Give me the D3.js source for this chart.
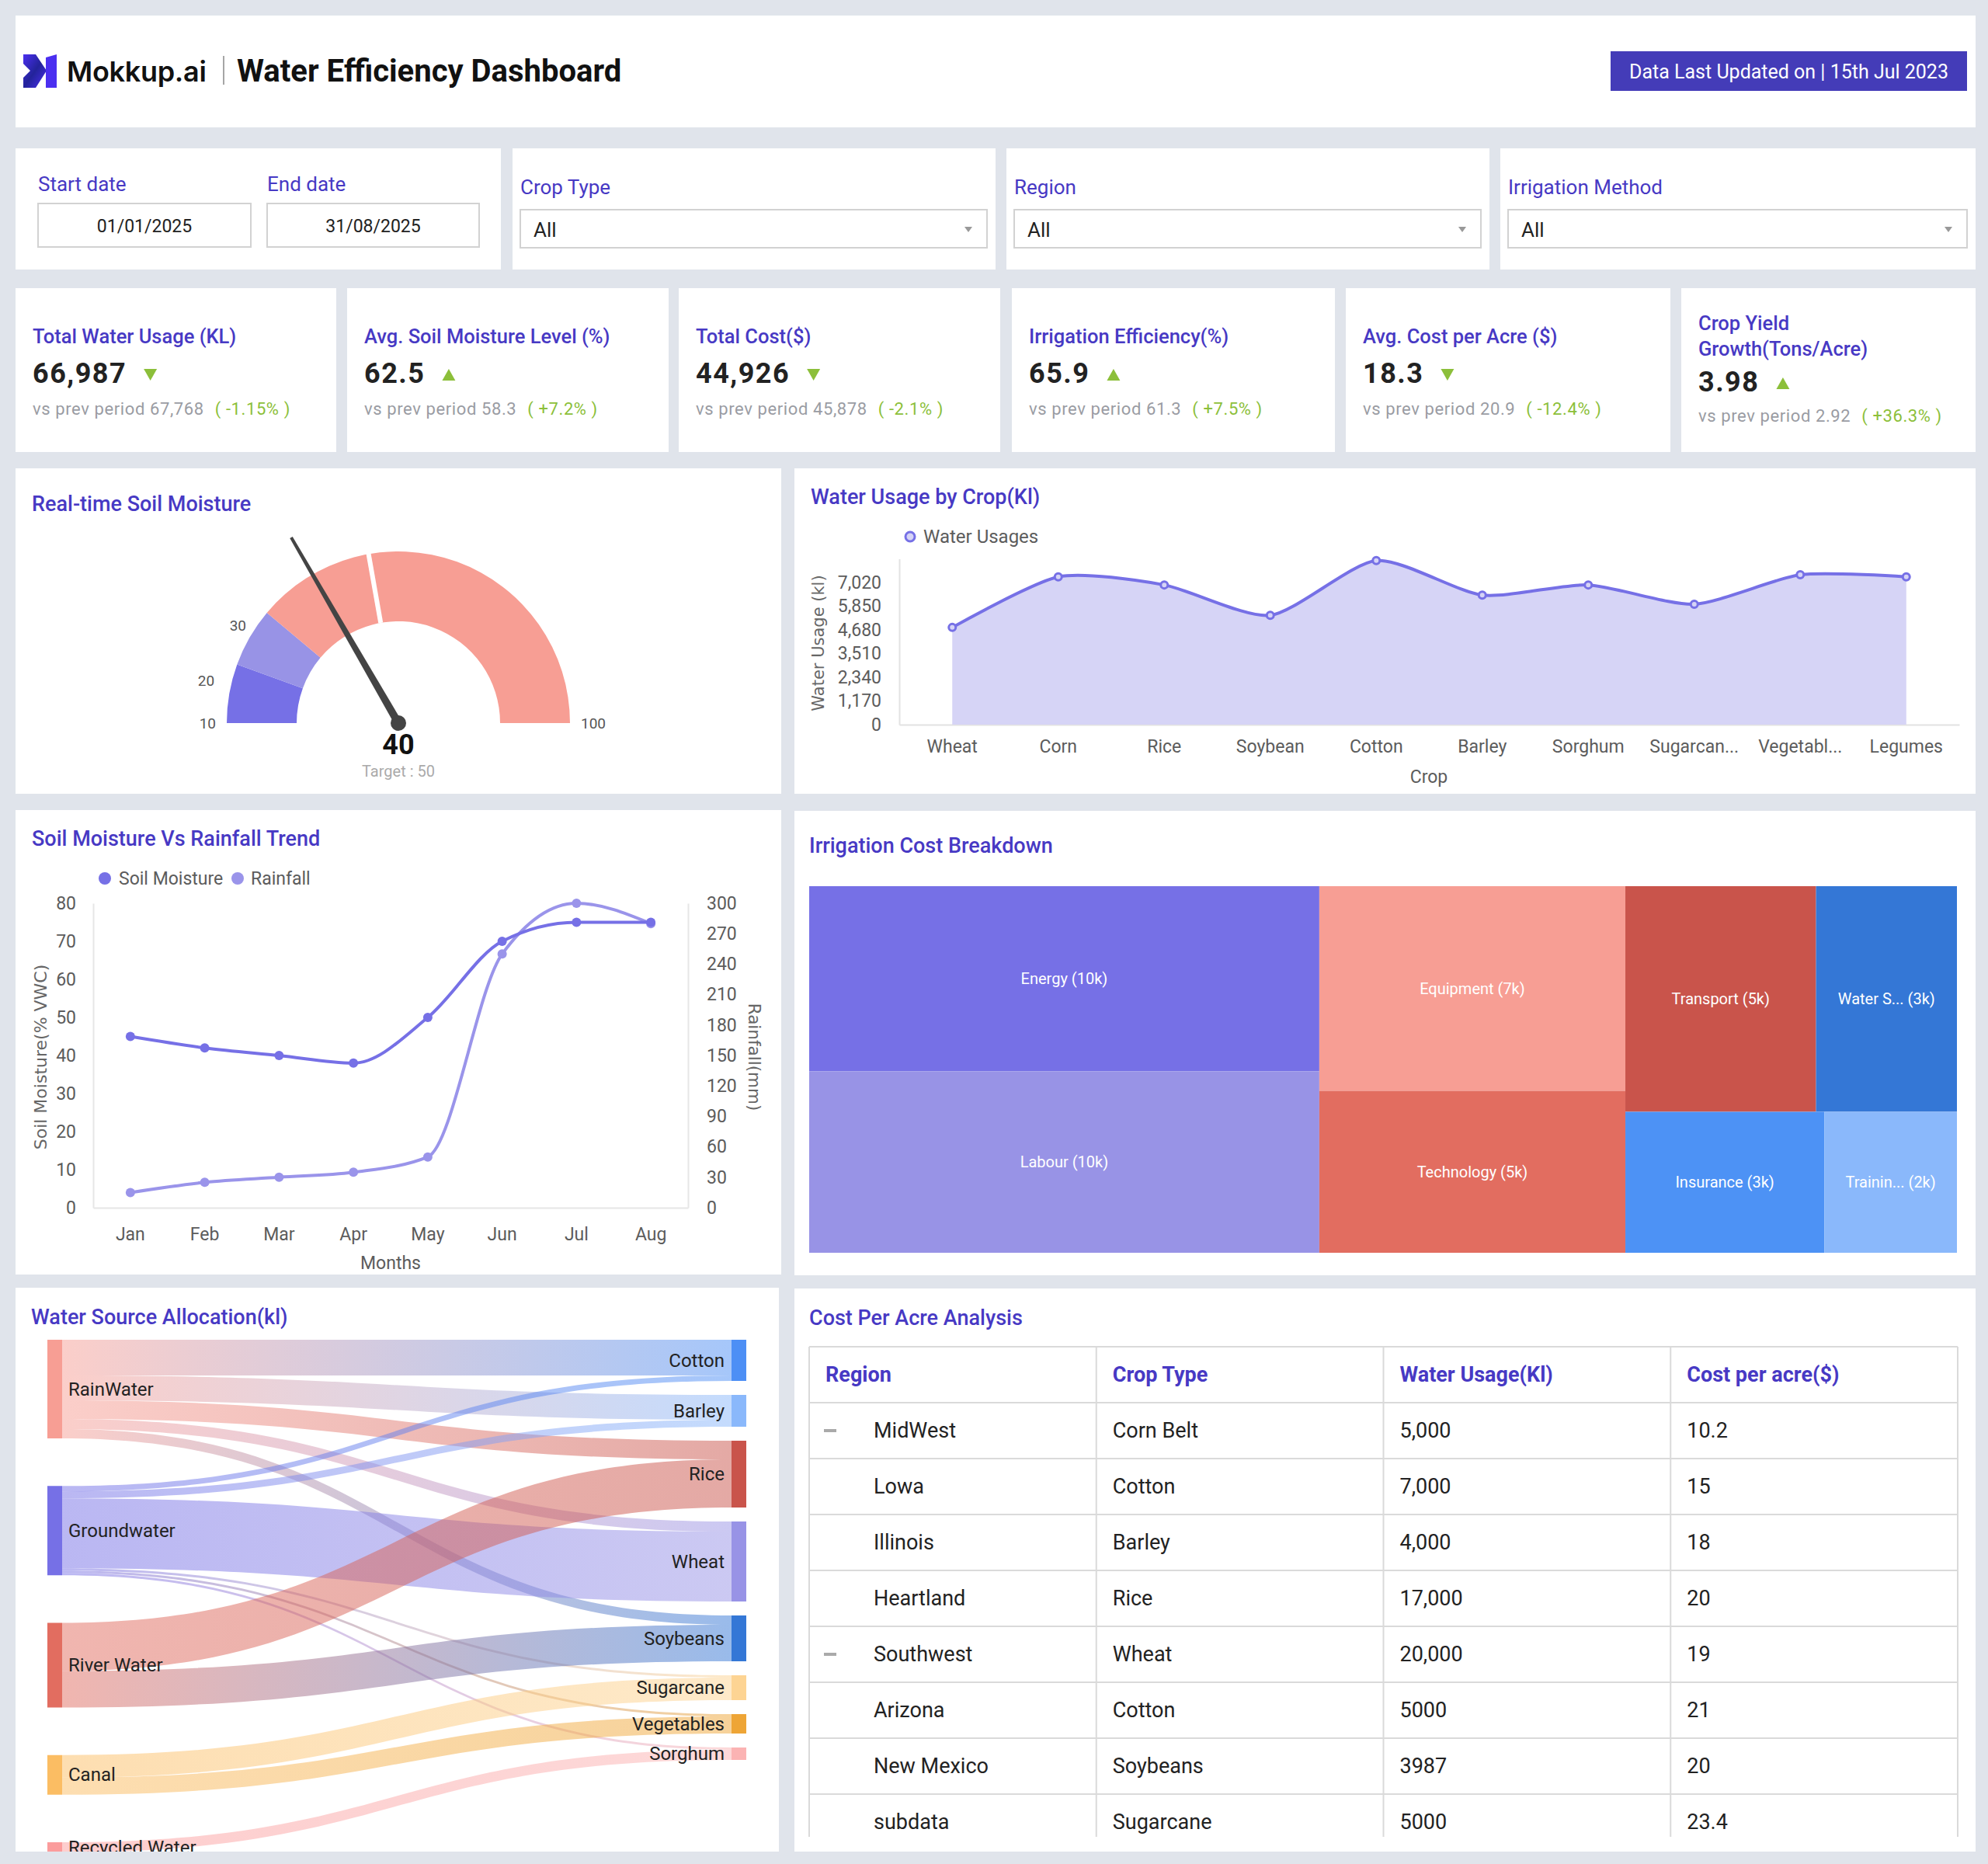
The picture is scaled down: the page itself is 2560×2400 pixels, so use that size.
<!DOCTYPE html>
<html>
<head>
<meta charset="utf-8">
<title>Water Efficiency Dashboard</title>
<script src="https://cdn.jsdelivr.net/npm/d3@7/dist/d3.min.js"></script>
<style>
  body { margin: 0; background: #e0e4eb; }
  svg { display: block; font-family: Roboto, "Noto Sans", sans-serif; }
</style>
</head>
<body>
<svg id="board" width="2560" height="2400"></svg>
<script>
// ---------- data ----------
const startDate = "01/01/2025";
const endDate = "31/08/2025";
const filterLabels = ["Crop Type", "Region", "Irrigation Method"];
const filterValues = ["All", "All", "All"];

const kpiTitles = ["Total Water Usage (KL)", "Avg. Soil Moisture Level (%)", "Total Cost($)",
  "Irrigation Efficiency(%)", "Avg. Cost per Acre ($)", "Crop Yield\nGrowth(Tons/Acre)"];
const kpiValues = ["66,987", "62.5", "44,926", "65.9", "18.3", "3.98"];
const kpiPrev = ["67,768", "58.3", "45,878", "61.3", "20.9", "2.92"];
const kpiChange = ["-1.15%", "+7.2%", "-2.1%", "+7.5%", "-12.4%", "+36.3%"];

const gaugeStops = [10, 20, 30, 100];
const gaugeValue = 40;
const gaugeTarget = 50;

const crops = ["Wheat", "Corn", "Rice", "Soybean", "Cotton", "Barley", "Sorghum", "Sugarcane", "Vegetables", "Legumes"];
const cropUsage = [4800, 7300, 6900, 5400, 8100, 6400, 6900, 5950, 7400, 7300];
const usageTicks = [0, 1170, 2340, 3510, 4680, 5850, 7020];
const usageMax = 8190;

const months = ["Jan", "Feb", "Mar", "Apr", "May", "Jun", "Jul", "Aug"];
const soilMoisture = [45, 42, 40, 38, 50, 70, 75, 75];
const rainfall = [15, 25, 30, 35, 50, 250, 300, 280];
const moistureTicks = [0, 10, 20, 30, 40, 50, 60, 70, 80];
const rainTicks = [0, 30, 60, 90, 120, 150, 180, 210, 240, 270, 300];

const costNames = ["Energy", "Labour", "Equipment", "Technology", "Transport", "Water Supply", "Insurance", "Training"];
const costValues = [10.1, 9.9, 6.7, 5.3, 4.6, 3.4, 3, 2];

const waterSources = ["RainWater", "Groundwater", "River Water", "Canal", "Recycled Water"];
const waterCrops = ["Cotton", "Barley", "Rice", "Wheat", "Soybeans", "Sugarcane", "Vegetables", "Sorghum"];
const waterFlows = [
  ["RainWater", "Cotton", 4600], ["RainWater", "Barley", 3200], ["RainWater", "Rice", 2400],
  ["RainWater", "Wheat", 1300], ["RainWater", "Soybeans", 1200],
  ["Groundwater", "Cotton", 700], ["Groundwater", "Barley", 900], ["Groundwater", "Wheat", 9000],
  ["Groundwater", "Sugarcane", 300], ["Groundwater", "Vegetables", 300], ["Groundwater", "Sorghum", 300],
  ["River Water", "Rice", 6200], ["River Water", "Soybeans", 4700],
  ["Canal", "Sugarcane", 2900], ["Canal", "Vegetables", 2200],
  ["Recycled Water", "Sorghum", 1300]
];

const tableHeaders = ["Region", "Crop Type", "Water Usage(Kl)", "Cost per acre($)"];
const tableRegions = ["MidWest", "Lowa", "Illinois", "Heartland", "Southwest", "Arizona", "New Mexico", "subdata"];
const tableCrops = ["Corn Belt", "Cotton", "Barley", "Rice", "Wheat", "Cotton", "Soybeans", "Sugarcane"];
const tableWater = ["5,000", "7,000", "4,000", "17,000", "20,000", "5000", "3987", "5000"];
const tableCost = ["10.2", "15", "18", "20", "19", "21", "20", "23.4"];
const tableGroupRow = [true, false, false, false, true, false, false, false];

// ---------- styles ----------
const TITLE = "#4739c4";
const INK = "#222";
const AXIS_TXT = "#5c5c5c";
const GREEN = "#8cbf3a";
const gaugeColors = ["#7670e6", "#9893e6", "#f79e94"];
const costColors = ["#7670e6", "#9893e6", "#f79e94", "#e26d60", "#c9544b", "#3477d6", "#4d92f5", "#8ab8fb"];
const sourceColors = ["#f79e94", "#7670e6", "#e26d60", "#fbbd63", "#fb9c9c"];
const cropColors = ["#4d8ff5", "#8ab8fb", "#c9544b", "#9893e6", "#3477d6", "#fdd493", "#eea536", "#fbb3b3"];

const svg = d3.select("#board");
const defs = svg.append("defs");

function panel(x, y, w, h) {
  return svg.append("rect").attr("x", x).attr("y", y).attr("width", w).attr("height", h).attr("fill", "#fff");
}
function label(g, x, y, s, size, fill, weight, anchor) {
  return g.append("text").attr("x", x).attr("y", y)
    .attr("font-size", size).attr("fill", fill)
    .attr("font-weight", weight || 400)
    .attr("text-anchor", anchor || "start")
    .attr("dominant-baseline", "central")
    .text(s);
}
function panelTitle(x, y, s) {
  return label(svg, x, y, s, 27, TITLE, 500);
}

// ---------- header ----------
panel(20, 20, 2524, 144);
const lg = defs.append("linearGradient").attr("id", "logoGrad")
  .attr("x1", 0).attr("y1", 0).attr("x2", 1).attr("y2", 1);
lg.append("stop").attr("offset", 0).attr("stop-color", "#4b2ff0");
lg.append("stop").attr("offset", 0.5).attr("stop-color", "#23239a");
lg.append("stop").attr("offset", 1).attr("stop-color", "#4b2ff0");
const logo = svg.append("g").attr("transform", "translate(30,70)");
logo.append("path").attr("d", "M0,0 L16,0 L30,21 L16,43 L0,43 L0,30 L9,21 L0,12 Z").attr("fill", "url(#logoGrad)");
logo.append("path").attr("d", "M29,4 L43,0 L43,43 L29,43 Z").attr("fill", "#4b2ff0");
svg.append("text").attr("x", 86).attr("y", 105).attr("font-family", "Inter, Roboto, sans-serif")
  .attr("font-size", 36).attr("font-weight", 600).attr("letter-spacing", -0.3).attr("fill", "#111").text("Mokkup.ai");
svg.append("line").attr("x1", 288).attr("x2", 288).attr("y1", 72).attr("y2", 109)
  .attr("stroke", "#888").attr("stroke-width", 1.5);
svg.append("text").attr("x", 305).attr("y", 105).attr("font-size", 40).attr("font-weight", 700)
  .attr("fill", "#111").text("Water Efficiency Dashboard");
svg.append("rect").attr("x", 2074).attr("y", 66).attr("width", 459).attr("height", 51).attr("fill", "#443cb8");
label(svg, 2303.5, 92, "Data Last Updated on | 15th Jul 2023", 25, "#fff", 400, "middle");

// ---------- filters ----------
const filterBoxes = [[20, 645], [660, 1282], [1296, 1918], [1932, 2544]];
filterBoxes.forEach(b => panel(b[0], 191, b[1] - b[0], 156));
label(svg, 49, 237, "Start date", 26, TITLE);
label(svg, 344, 237, "End date", 26, TITLE);
[[49, 274, startDate], [344, 273, endDate]].forEach(d => {
  svg.append("rect").attr("x", d[0]).attr("y", 262).attr("width", d[1]).attr("height", 56)
    .attr("fill", "#fff").attr("stroke", "#d2d2d2").attr("stroke-width", 2);
  label(svg, d[0] + d[1] / 2, 291, d[2], 23, INK, 400, "middle");
});
filterLabels.forEach((f, i) => {
  const x0 = filterBoxes[i + 1][0] + 10, w = filterBoxes[i + 1][1] - filterBoxes[i + 1][0] - 21;
  label(svg, x0, 241, f, 26, TITLE);
  svg.append("rect").attr("x", x0).attr("y", 270).attr("width", w).attr("height", 49)
    .attr("fill", "#fff").attr("stroke", "#d2d2d2").attr("stroke-width", 2);
  label(svg, x0 + 17, 296, filterValues[i], 26, INK);
  svg.append("path").attr("d", `M${x0 + w - 29},${292} h10 l-5,7 z`).attr("fill", "#999");
});

// ---------- KPI cards ----------
const kpiBoxes = [[20, 433], [447, 861], [874, 1288], [1303, 1719], [1733, 2151], [2165, 2544]];
kpiTitles.forEach((t, i) => {
  const x0 = kpiBoxes[i][0];
  panel(x0, 371, kpiBoxes[i][1] - x0, 211);
  const g = svg.append("g").attr("transform", `translate(${x0 + 22},0)`);
  const lines = t.split("\n");
  const two = lines.length > 1;
  lines.forEach((l, j) => g.append("text").attr("y", (two ? 425 : 442) + j * 33)
    .attr("font-size", 25.5).attr("font-weight", 500).attr("fill", TITLE).text(l));
  const vy = two ? 504 : 493, sy = two ? 543 : 534;
  const val = g.append("text").attr("y", vy).attr("font-size", 36).attr("font-weight", 700)
    .attr("letter-spacing", 1.5).attr("fill", INK).text(kpiValues[i]);
  const ax = val.node().getComputedTextLength() + 22;
  const down = kpiChange[i].startsWith("-");
  g.append("path")
    .attr("d", down ? `M${ax},${vy - 18} h17 l-8.5,15 z` : `M${ax},${vy - 3} h17 l-8.5,-15 z`)
    .attr("fill", GREEN);
  const st = g.append("text").attr("y", sy).attr("font-size", 22).attr("fill", "#9a9ca3").attr("letter-spacing", 0.6);
  st.append("tspan").text("vs prev period " + kpiPrev[i]);
  st.append("tspan").attr("dx", 14).attr("fill", GREEN).text("( " + kpiChange[i] + " )");
});

// ---------- gauge ----------
panel(20, 603, 986, 419);
panelTitle(41, 649, "Real-time Soil Moisture");
{
  const g = svg.append("g").attr("transform", "translate(513,931)");
  const R = 221, r = 131;
  const ang = d3.scaleLinear().domain([gaugeStops[0], gaugeStops[gaugeStops.length - 1]])
    .range([-Math.PI / 2, Math.PI / 2]);
  const arc = d3.arc().innerRadius(r).outerRadius(R);
  d3.pairs(gaugeStops).forEach(([a, b], i) => {
    g.append("path").attr("d", arc({ startAngle: ang(a), endAngle: ang(b) })).attr("fill", gaugeColors[i]);
  });
  const ta = ang(gaugeTarget);
  g.append("line")
    .attr("x1", Math.sin(ta) * r).attr("y1", -Math.cos(ta) * r)
    .attr("x2", Math.sin(ta) * (R + 1)).attr("y2", -Math.cos(ta) * (R + 1))
    .attr("stroke", "#fff").attr("stroke-width", 6);
  gaugeStops.forEach((v, i) => {
    const a = ang(v), rr = R + 14;
    const inner = i > 0 && i < gaugeStops.length - 1;
    label(g, Math.sin(a) * rr - (inner ? 16 : 0), -Math.cos(a) * rr + (inner ? 26 : 0), v, 19, "#555", 400,
      a > 0 ? "start" : "end");
  });
  const va = ang(gaugeValue), len = 276;
  const dx = Math.sin(va), dy = -Math.cos(va), px = Math.cos(va), py = Math.sin(va);
  g.append("path").attr("d",
    `M${px * 5},${py * 5} L${dx * len + px * 2},${dy * len + py * 2} L${dx * len - px * 2},${dy * len - py * 2} L${-px * 5},${-py * 5} Z`)
    .attr("fill", "#444");
  g.append("circle").attr("r", 10).attr("fill", "#444");
  label(g, 0, 28, gaugeValue, 36, "#111", 700, "middle");
  label(g, 0, 62, "Target : " + gaugeTarget, 20, "#aaa", 400, "middle");
}

// ---------- water usage by crop ----------
panel(1023, 603, 1521, 419);
panelTitle(1044, 640, "Water Usage by Crop(Kl)");
{
  const x = d3.scaleBand().domain(crops).range([1158, 2523]);
  const y = d3.scaleLinear().domain([0, usageMax]).range([933, 719.5]);
  const cx = d => x(d) + x.bandwidth() / 2;
  const g = svg.append("g");
  const yAx = g.append("g").attr("transform", "translate(1158,0)")
    .call(d3.axisLeft(y).tickValues(usageTicks).tickSize(0).tickSizeOuter(0).tickPadding(23).tickFormat(d3.format(",")));
  const xAx = g.append("g").attr("transform", "translate(0,933)")
    .call(d3.axisBottom(x).tickSize(0).tickSizeOuter(0).tickPadding(20)
      .tickFormat(d => d.length > 8 ? d.slice(0, 8) + "..." : d));
  [yAx, xAx].forEach(a => {
    a.select(".domain").attr("stroke", "#e2e2e2").attr("stroke-width", 2);
    a.selectAll("text").attr("font-size", 23).attr("fill", AXIS_TXT).attr("font-family", "Roboto, sans-serif");
  });
  const pts = crops.map((c, i) => [cx(c), y(cropUsage[i])]);
  const curve = d3.curveCardinal.tension(0.3);
  g.append("path").attr("d", d3.area().x(d => d[0]).y0(933).y1(d => d[1]).curve(curve)(pts)).attr("fill", "#d6d4f6");
  g.append("path").attr("d", d3.line().curve(curve)(pts)).attr("fill", "none")
    .attr("stroke", "#7670e6").attr("stroke-width", 4);
  g.selectAll(".pt").data(pts).join("circle").attr("cx", d => d[0]).attr("cy", d => d[1]).attr("r", 4.5)
    .attr("fill", "#d6d4f6").attr("stroke", "#7670e6").attr("stroke-width", 3);
  g.append("circle").attr("cx", 1172).attr("cy", 691).attr("r", 6).attr("fill", "#d6d4f6")
    .attr("stroke", "#7670e6").attr("stroke-width", 3);
  label(g, 1189, 691, "Water Usages", 24, AXIS_TXT);
  g.append("text").attr("transform", "translate(1054,828) rotate(-90)").attr("text-anchor", "middle")
    .attr("dominant-baseline", "central").attr("font-family", "DejaVu Sans, sans-serif")
    .attr("font-size", 21).attr("fill", "#666").text("Water Usage (kl)");
  label(g, 1840, 1000, "Crop", 23, AXIS_TXT, 400, "middle");
}

// ---------- soil moisture vs rainfall ----------
panel(20, 1043, 986, 598);
panelTitle(41, 1080, "Soil Moisture Vs Rainfall Trend");
{
  const x = d3.scaleBand().domain(months).range([120, 886]);
  const yL = d3.scaleLinear().domain([0, 80]).range([1555, 1163]);
  const yR = d3.scaleLinear().domain([0, 300]).range([1555, 1163]);
  const cx = d => x(d) + x.bandwidth() / 2;
  const g = svg.append("g");
  const axes = [
    g.append("g").attr("transform", "translate(120,0)")
      .call(d3.axisLeft(yL).tickValues(moistureTicks).tickSize(0).tickSizeOuter(0).tickPadding(22)),
    g.append("g").attr("transform", "translate(886,0)")
      .call(d3.axisRight(yR).tickValues(rainTicks).tickSize(0).tickSizeOuter(0).tickPadding(24)),
    g.append("g").attr("transform", "translate(0,1555)")
      .call(d3.axisBottom(x).tickSize(0).tickSizeOuter(0).tickPadding(26))
  ];
  axes.forEach(a => {
    a.select(".domain").attr("stroke", "#e6e6e6").attr("stroke-width", 2);
    a.selectAll("text").attr("font-size", 23).attr("fill", AXIS_TXT).attr("font-family", "Roboto, sans-serif");
  });
  const curve = d3.curveMonotoneX;
  const series = [[rainfall, yR, "#9a94ea"], [soilMoisture, yL, "#7670e6"]];
  series.forEach(([vals, y, col]) => {
    const pts = months.map((m, i) => [cx(m), y(vals[i])]);
    g.append("path").attr("d", d3.line().curve(curve)(pts)).attr("fill", "none")
      .attr("stroke", col).attr("stroke-width", 4);
    g.append("g").selectAll("circle").data(pts).join("circle")
      .attr("cx", d => d[0]).attr("cy", d => d[1]).attr("r", 6).attr("fill", col);
  });
  g.append("circle").attr("cx", 135).attr("cy", 1131).attr("r", 8).attr("fill", "#7670e6");
  label(g, 153, 1131, "Soil Moisture", 23, AXIS_TXT);
  g.append("circle").attr("cx", 306).attr("cy", 1131).attr("r", 8).attr("fill", "#9a94ea");
  label(g, 323, 1131, "Rainfall", 23, AXIS_TXT);
  g.append("text").attr("transform", "translate(52,1361) rotate(-90)").attr("text-anchor", "middle")
    .attr("dominant-baseline", "central").attr("font-family", "DejaVu Sans, sans-serif")
    .attr("font-size", 22).attr("fill", "#666").text("Soil Moisture(% VWC)");
  g.append("text").attr("transform", "translate(971,1361) rotate(90)").attr("text-anchor", "middle")
    .attr("dominant-baseline", "central").attr("font-family", "DejaVu Sans, sans-serif")
    .attr("font-size", 21.5).attr("fill", "#666").text("Rainfall(mm)");
  label(g, 503, 1626, "Months", 23, AXIS_TXT, 400, "middle");
}

// ---------- irrigation cost treemap ----------
panel(1023, 1044, 1521, 598);
panelTitle(1042, 1089, "Irrigation Cost Breakdown");
{
  const root = d3.hierarchy({ children: costNames.map((n, i) => ({ name: n, value: costValues[i], idx: i })) })
    .sum(d => d.value || 0)
    .sort((a, b) => b.value - a.value);
  d3.treemap().size([1478, 472]).tile(d3.treemapSquarify)(root);
  const g = svg.append("g").attr("transform", "translate(1042,1141)");
  const cell = g.selectAll("g").data(root.leaves()).join("g");
  cell.append("rect").attr("x", d => d.x0).attr("y", d => d.y0)
    .attr("width", d => d.x1 - d.x0).attr("height", d => d.y1 - d.y0)
    .attr("fill", d => costColors[d.data.idx]);
  cell.append("text")
    .attr("x", d => (d.x0 + d.x1) / 2).attr("y", d => (d.y0 + d.y1) / 2)
    .attr("text-anchor", "middle").attr("dominant-baseline", "central")
    .attr("font-size", 20).attr("fill", "#fff")
    .text(d => {
      const n = d.data.name;
      const short = (d.x1 - d.x0) < 200 && n.length > 7 ? n.slice(0, 7) + "..." : n;
      return `${short} (${Math.round(d.data.value)}k)`;
    });
}

// ---------- water source sankey ----------
panel(20, 1658, 983, 726);
panelTitle(40, 1696, "Water Source Allocation(kl)");
{
  defs.append("clipPath").attr("id", "skClip").append("rect")
    .attr("x", 20).attr("y", 1658).attr("width", 983).attr("height", 726);
  const g = svg.append("g").attr("clip-path", "url(#skClip)");
  const nodeW = 19, gap = 18, top = 1725, rightH = 541, leftBottom = 2385;
  const xs = 61, xt = 942;
  const total = d3.sum(waterFlows, f => f[2]);
  const ky = (rightH - (waterCrops.length - 1) * gap) / total;
  const outSum = s => d3.sum(waterFlows.filter(f => f[0] === s), f => f[2]);
  const inSum = t => d3.sum(waterFlows.filter(f => f[1] === t), f => f[2]);

  const tNode = {};
  let yy = top;
  waterCrops.forEach((t, i) => {
    const h = inSum(t) * ky;
    tNode[t] = { y0: yy, y1: yy + h, col: cropColors[i], off: yy };
    yy += h + gap;
  });
  const leftTotal = d3.sum(waterSources, s => outSum(s)) * ky;
  const lgap = (leftBottom - top - leftTotal) / (waterSources.length - 1);
  const sNode = {};
  yy = top;
  waterSources.forEach((s, i) => {
    const h = outSum(s) * ky;
    sNode[s] = { y0: yy, y1: yy + h, col: sourceColors[i], off: yy };
    yy += h + lgap;
  });

  // link offsets: at the source ordered by target, at the target ordered by source
  const links = waterFlows.map(f => ({ s: f[0], t: f[1], w: f[2] * ky }));
  waterSources.forEach(s => {
    links.filter(l => l.s === s)
      .sort((a, b) => waterCrops.indexOf(a.t) - waterCrops.indexOf(b.t))
      .forEach(l => { l.sy = sNode[s].off; sNode[s].off += l.w; });
  });
  waterCrops.forEach(t => {
    links.filter(l => l.t === t)
      .sort((a, b) => waterSources.indexOf(a.s) - waterSources.indexOf(b.s))
      .forEach(l => { l.ty = tNode[t].off; tNode[t].off += l.w; });
  });

  const x0 = xs + nodeW, x1 = xt, mx = (x0 + x1) / 2;
  links.forEach((l, i) => {
    const id = "lk" + i;
    const grad = defs.append("linearGradient").attr("id", id).attr("gradientUnits", "userSpaceOnUse")
      .attr("x1", x0).attr("x2", x1).attr("y1", 0).attr("y2", 0);
    grad.append("stop").attr("offset", 0).attr("stop-color", sNode[l.s].col);
    grad.append("stop").attr("offset", 1).attr("stop-color", tNode[l.t].col);
    const p = d3.path();
    p.moveTo(x0, l.sy);
    p.bezierCurveTo(mx, l.sy, mx, l.ty, x1, l.ty);
    p.lineTo(x1, l.ty + l.w);
    p.bezierCurveTo(mx, l.ty + l.w, mx, l.sy + l.w, x0, l.sy + l.w);
    p.closePath();
    g.append("path").attr("d", p.toString()).attr("fill", `url(#${id})`).attr("fill-opacity", 0.5);
  });

  waterSources.forEach(s => {
    const n = sNode[s];
    g.append("rect").attr("x", xs).attr("y", n.y0).attr("width", nodeW).attr("height", n.y1 - n.y0).attr("fill", n.col);
    label(g, xs + nodeW + 8, (n.y0 + n.y1) / 2, s, 24, INK);
  });
  waterCrops.forEach(t => {
    const n = tNode[t];
    g.append("rect").attr("x", xt).attr("y", n.y0).attr("width", nodeW).attr("height", n.y1 - n.y0).attr("fill", n.col);
    label(g, xt - 9, (n.y0 + n.y1) / 2, t, 24, INK, 400, "end");
  });
}

// ---------- cost per acre table ----------
panel(1023, 1659, 1521, 725);
panelTitle(1042, 1697, "Cost Per Acre Analysis");
{
  defs.append("clipPath").attr("id", "tbClip").append("rect")
    .attr("x", 1030).attr("y", 1720).attr("width", 1505).attr("height", 645);
  const g = svg.append("g").attr("clip-path", "url(#tbClip)");
  const col = d3.scaleBand().domain(tableHeaders).range([1042, 2521]);
  const row = d3.scaleBand().domain(d3.range(tableRegions.length + 1)).range([1734, 1734 + 72 * (tableRegions.length + 1)]);
  const bottom = row.range()[1];
  row.domain().forEach(r => g.append("line").attr("x1", 1042).attr("x2", 2521)
    .attr("y1", row(r)).attr("y2", row(r)).attr("stroke", "#dadada").attr("stroke-width", 2));
  tableHeaders.forEach(h => g.append("line").attr("x1", col(h)).attr("x2", col(h))
    .attr("y1", 1734).attr("y2", bottom).attr("stroke", "#dadada").attr("stroke-width", 2));
  g.append("line").attr("x1", 2521).attr("x2", 2521).attr("y1", 1734).attr("y2", bottom)
    .attr("stroke", "#dadada").attr("stroke-width", 2);
  const hy = row(0) + row.bandwidth() / 2;
  tableHeaders.forEach(h => label(g, col(h) + 21, hy, h, 27, TITLE, 700));
  tableRegions.forEach((reg, i) => {
    const cy = row(i + 1) + row.bandwidth() / 2;
    if (tableGroupRow[i]) {
      g.append("rect").attr("x", 1061).attr("y", cy - 2).attr("width", 16).attr("height", 4).attr("fill", "#aaa");
    }
    label(g, col(tableHeaders[0]) + 83, cy, reg, 27, INK);
    label(g, col(tableHeaders[1]) + 21, cy, tableCrops[i], 27, INK);
    label(g, col(tableHeaders[2]) + 21, cy, tableWater[i], 27, INK);
    label(g, col(tableHeaders[3]) + 21, cy, tableCost[i], 27, INK);
  });
}
</script>
</body>
</html>
